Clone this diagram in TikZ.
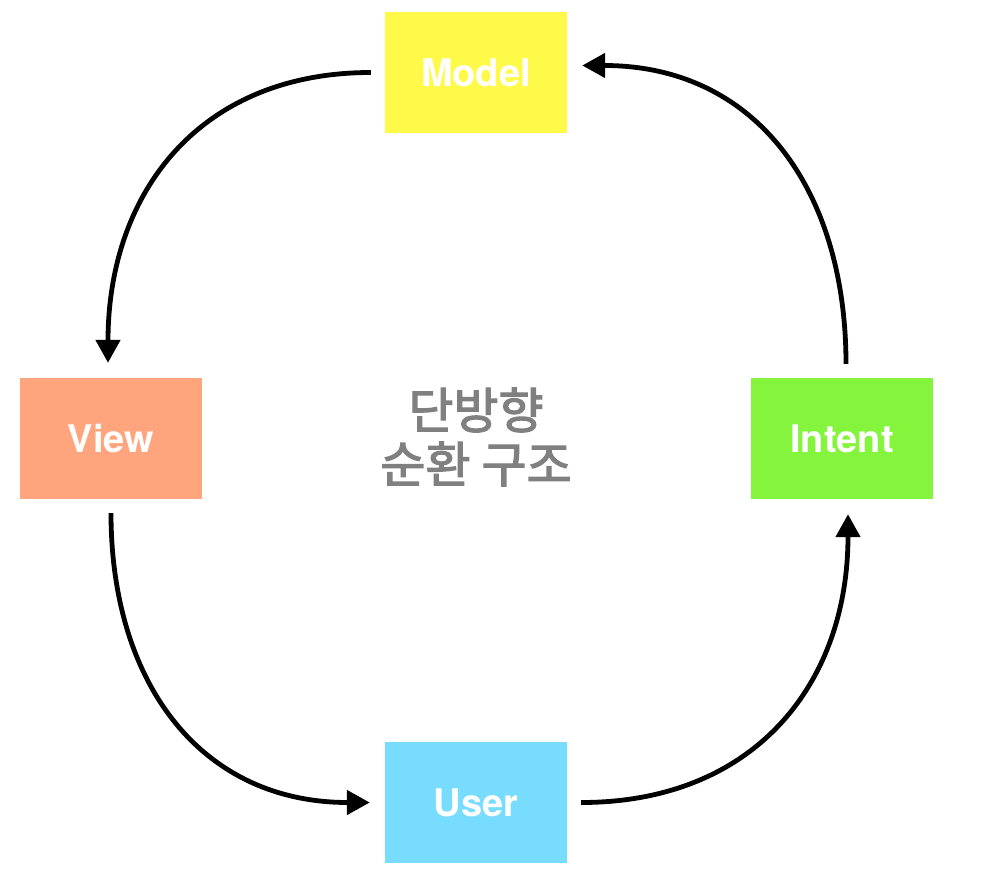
\documentclass[tikz,border=0pt]{standalone}
\usepackage{fontspec}
\setmainfont{TeX Gyre Heros}
\newfontfamily\krfont[FakeBold=2.5]{Noto Sans CJK KR}
\usetikzlibrary{arrows.meta}
\definecolor{cModel}{RGB}{255,250,74}
\definecolor{cView}{RGB}{255,165,125}
\definecolor{cIntent}{RGB}{132,245,60}
\definecolor{cUser}{RGB}{120,220,255}
\definecolor{cGray}{RGB}{128,128,128}
\tikzset{
  box/.style={minimum width=182pt, minimum height=121pt, inner sep=0pt, text=white, font=\fontsize{38}{40}\selectfont\bfseries},
  flow/.style={line width=4.8pt, -{Triangle[length=23pt,width=24pt]}, shorten <=14pt, shorten >=15pt},
}
\begin{document}
\begin{tikzpicture}[x=1pt,y=1pt]
\useasboundingbox (0,0) rectangle (982,-883);
\node[box, fill=cModel] (Model) at (476,-72.5) {Model};
\node[box, fill=cView] (View) at (111,-438.5) {View};
\node[box, fill=cIntent] (Intent) at (842,-438.5) {Intent};
\node[box, fill=cUser] (User) at (476,-802.5) {User};
\node[text=cGray, align=center, font=\krfont\fontsize{49}{54}\selectfont] (Center) at (476,-437) {단방향\\순환 구조};
\draw[flow] (Model.west) to[out=180, in=90, looseness=1.15] ([xshift=-3]View.north);
\draw[flow] (View.south) to[out=-90, in=180, looseness=1.15] (User.west);
\draw[flow] (User.east) to[out=0, in=-90, looseness=1.15] ([xshift=6]Intent.south);
\draw[flow] ([xshift=4]Intent.north) to[out=90, in=0, looseness=1.15] ([yshift=7]Model.east);
\end{tikzpicture}
\end{document}
